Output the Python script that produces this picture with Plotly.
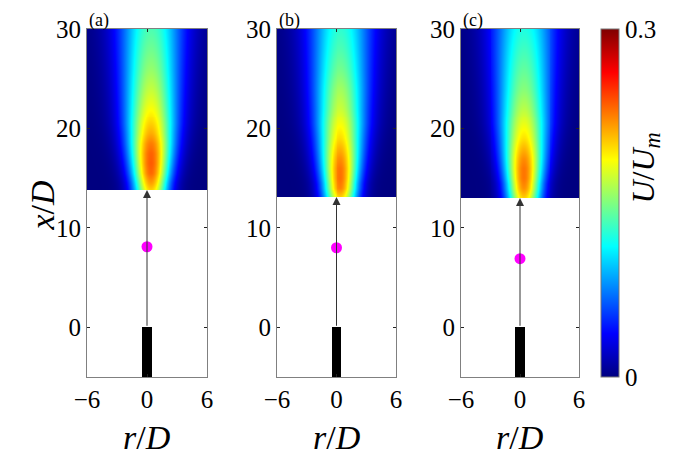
import numpy as np
import plotly.graph_objects as go

# ---- data ----
panel_labels = ["(a)", "(b)", "(c)"]
# axial stations (x/D) and centreline velocity U/Um read along the jet axis
stations_a = [13.8, 14.5, 15.5, 16.5, 17.5, 18.5, 19.5, 21.0, 22.5, 24.0, 26.0, 28.0, 30.0]
uc_a       = [0.20, 0.215, 0.232, 0.236, 0.234, 0.226, 0.212, 0.196, 0.182, 0.170, 0.156, 0.145, 0.135]
stations_b = [13.1, 14.0, 15.0, 16.0, 17.0, 18.0, 19.0, 20.5, 22.0, 24.0, 26.0, 28.0, 30.0]
uc_b       = [0.20, 0.224, 0.230, 0.229, 0.221, 0.210, 0.198, 0.185, 0.172, 0.160, 0.146, 0.135, 0.126]
stations_c = [13.0, 14.0, 15.0, 16.0, 17.0, 18.0, 19.0, 20.5, 22.0, 24.0, 26.0, 28.0, 30.0]
uc_c       = [0.20, 0.220, 0.228, 0.228, 0.221, 0.209, 0.196, 0.181, 0.167, 0.152, 0.141, 0.131, 0.121]
# jet width (Gaussian half-width) read at a few stations
width_x    = [13.0, 14.5, 20.5, 30.0]
width_s    = [1.25, 1.3, 1.8, 2.3]
core_offset = 0.35
probe_x = [8.1, 8.0, 6.9]          # magenta dot positions
field_start = [13.8, 13.1, 13.0]   # bottom of measured field
bar_top = 0.0
bar_bottom = -5.0
bar_width = 1.0
xticks = [-6, 0, 6]
xticklabels = ["\u22126", "0", "6"]
yticks = [0, 10, 20, 30]
cb_ticks = [0, 0.3]
cb_ticklabels = ["0", "0.3"]

stations = [stations_a, stations_b, stations_c]
ucs = [uc_a, uc_b, uc_c]

jet = [[0.0, "rgb(0,0,128)"], [0.125, "rgb(0,0,255)"], [0.375, "rgb(0,255,255)"],
       [0.625, "rgb(255,255,0)"], [0.875, "rgb(255,0,0)"], [1.0, "rgb(128,0,0)"]]

FONT = "Liberation Serif"
W, H = 697, 461
OFF = 8  # page body margin offset
def px(x):
    return (x - OFF) / W
def py(y):
    return 1 - (y - OFF) / H

dom_x = [(87, 207), (277, 396), (461, 579)]
top_px, bot_px = 29, 377

fig = go.Figure()
r = np.linspace(-6, 6, 121)
for i in range(3):
    xa = "x" if i == 0 else f"x{i+1}"
    ya = "y" if i == 0 else f"y{i+1}"
    y0 = field_start[i]
    ny = int(round((30 - y0) / 0.1))
    yedges = np.linspace(y0, 30, ny + 1)
    yc = 0.5 * (yedges[1:] + yedges[:-1])
    uc = np.interp(yc, stations[i], ucs[i])
    s = np.interp(yc, width_x, width_s)
    z = uc[:, None] * np.exp(-((r[None, :] - core_offset) ** 2) / (2 * s[:, None] ** 2))
    fig.add_trace(go.Heatmap(
        x=r, y=yedges, z=z, colorscale=jet, zmin=0, zmax=0.3, zsmooth="best",
        xaxis=xa, yaxis=ya, showscale=(i == 0),
        colorbar=dict(
            x=px(601), xanchor="left", thickness=18, thicknessmode="pixels",
            y=py(bot_px), yanchor="bottom", len=(bot_px - top_px) / H, lenmode="fraction",
            tickvals=cb_ticks, ticktext=cb_ticklabels, ticks="", outlinewidth=1, outlinecolor="#777",
            tickfont=dict(family=FONT, size=25, color="black"), xpad=0, ypad=0,
        ),
        hoverinfo="skip",
    ))
    fig.add_trace(go.Bar(x=[0], y=[bar_top - bar_bottom], base=[bar_bottom], width=[bar_width],
                         marker=dict(color="black", line=dict(width=0)),
                         xaxis=xa, yaxis=ya, showlegend=False, hoverinfo="skip"))
    fig.add_trace(go.Scatter(x=[0], y=[probe_x[i]], mode="markers",
                             marker=dict(color="#ff00ff", size=11),
                             xaxis=xa, yaxis=ya, showlegend=False, hoverinfo="skip"))
    fig.add_annotation(x=0, y=field_start[i], ax=0, ay=bar_top, xref=xa, yref=ya,
                       axref=xa, ayref=ya, showarrow=True, arrowhead=2, arrowsize=1.6,
                       arrowwidth=1, arrowcolor="#333", text="")
    fig.add_annotation(x=px(dom_x[i][0] + 12), y=1, xref="paper", yref="paper",
                       text=panel_labels[i], showarrow=False, xanchor="center", yanchor="top",
                       font=dict(family=FONT, size=18, color="black"))
    fig.add_annotation(x=px((dom_x[i][0] + dom_x[i][1]) / 2), y=py(437),
                       xref="paper", yref="paper", text="<i>r</i>/<i>D</i>", showarrow=False,
                       xanchor="center", yanchor="middle",
                       font=dict(family=FONT, size=34, color="black"))

axcommon = dict(showgrid=False, zeroline=False, showline=True, linecolor="#808080", linewidth=1,
                mirror="ticks", ticks="inside", ticklen=3, tickcolor="#222",
                tickfont=dict(family=FONT, size=25, color="black"))
layout = dict(width=W, height=H, margin=dict(l=0, r=0, t=0, b=0, autoexpand=False),
              plot_bgcolor="white", paper_bgcolor="white", showlegend=False, bargap=0)
for i in range(3):
    sfx = "" if i == 0 else str(i + 1)
    layout["xaxis" + sfx] = dict(domain=[px(dom_x[i][0]), px(dom_x[i][1])], range=[-6, 6],
                                 tickvals=xticks, ticktext=xticklabels,
                                 anchor="y" + sfx, **axcommon)
    layout["yaxis" + sfx] = dict(domain=[py(bot_px), py(top_px)], range=[-5, 30],
                                 tickvals=yticks, anchor="x" + sfx, **axcommon)
fig.update_layout(**layout)

fig.add_annotation(x=px(22), y=py(205), xref="paper", yref="paper",
                   text="<i>x</i>/<i>D</i>", textangle=-90, showarrow=False,
                   font=dict(family=FONT, size=34, color="black"))
fig.add_annotation(x=px(667), y=py(168), xref="paper", yref="paper",
                   text="<i>U</i>/<i>U<sub>m</sub></i>", textangle=-90, showarrow=False,
                   font=dict(family=FONT, size=32, color="black"))

fig.write_html("out.html")
